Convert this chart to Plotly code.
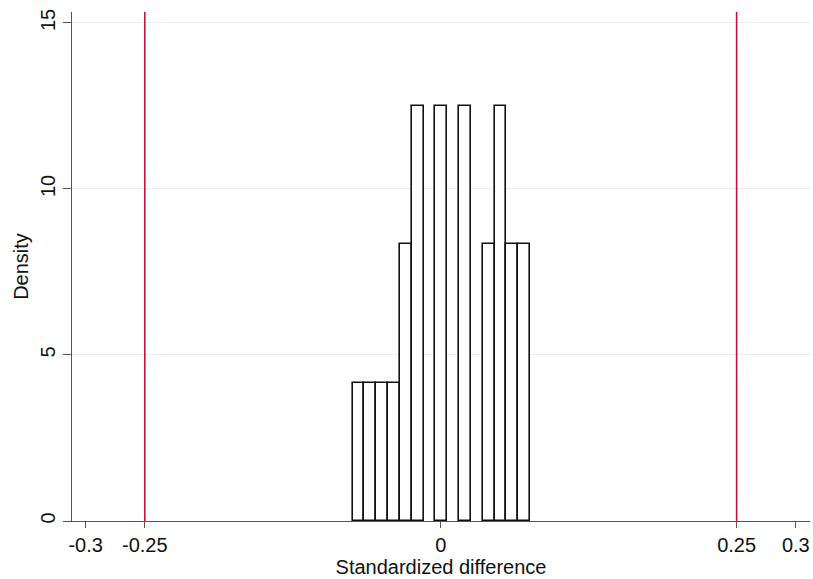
import plotly.graph_objects as go

# Histogram bins (left edges, width 0.01) and their densities
bin_left = [-0.0745, -0.0645, -0.0545, -0.0445, -0.0345, -0.0245, -0.0145,
            -0.0045, 0.0055, 0.0155, 0.0255, 0.0355, 0.0455, 0.0555, 0.0655]
density = [4.167, 4.167, 4.167, 4.167, 8.333, 12.5, 0.0,
           12.5, 0.0, 12.5, 0.0, 8.333, 12.5, 8.333, 8.333]
bin_width = 0.01

# Reference thresholds
ref_lines = [-0.25, 0.25]

x_ticks = [-0.3, -0.25, 0, 0.25, 0.3]
x_tick_text = ["-0.3", "-0.25", "0", "0.25", "0.3"]
y_ticks = [0, 5, 10, 15]

FONT = "Liberation Sans, Arial, sans-serif"

xs = [l + bin_width / 2 for l, d in zip(bin_left, density) if d > 0]
ys = [d for d in density if d > 0]

fig = go.Figure()
fig.add_trace(go.Bar(
    x=xs, y=ys, width=bin_width,
    marker=dict(color="white", line=dict(color="#111111", width=1.6)),
    showlegend=False,
))

for xv in ref_lines:
    fig.add_shape(type="line", x0=xv, x1=xv, y0=0, y1=1, xref="x", yref="paper",
                  line=dict(color="#c8103a", width=1.6), layer="above")

fig.update_layout(
    width=813, height=579,
    margin=dict(l=72, r=3, t=12, b=58),
    paper_bgcolor="white", plot_bgcolor="white",
    font=dict(family=FONT, size=20, color="#111111"),
    bargap=0,
    xaxis=dict(
        range=[-0.3115, 0.312],
        tickvals=x_ticks, ticktext=x_tick_text,
        ticks="outside", ticklen=6, tickcolor="#555555", tickwidth=1.2,
        showline=True, linecolor="#555555", linewidth=1.2,
        showgrid=False, zeroline=False,
        title=dict(text="Standardized difference", standoff=1,
                   font=dict(size=20)),
        tickfont=dict(size=20),
    ),
    yaxis=dict(
        range=[0, 15.33],
        tickvals=y_ticks,
        ticks="outside", ticklen=8, tickcolor="#555555", tickwidth=1.2,
        tickangle=-90,
        showline=True, linecolor="#555555", linewidth=1.2,
        showgrid=True, gridcolor="#e6eef0", gridwidth=1.2,
        zeroline=False,
        title=dict(text="Density", standoff=2, font=dict(size=20)),
        tickfont=dict(size=20),
    ),
)

fig.write_html("out.html")
